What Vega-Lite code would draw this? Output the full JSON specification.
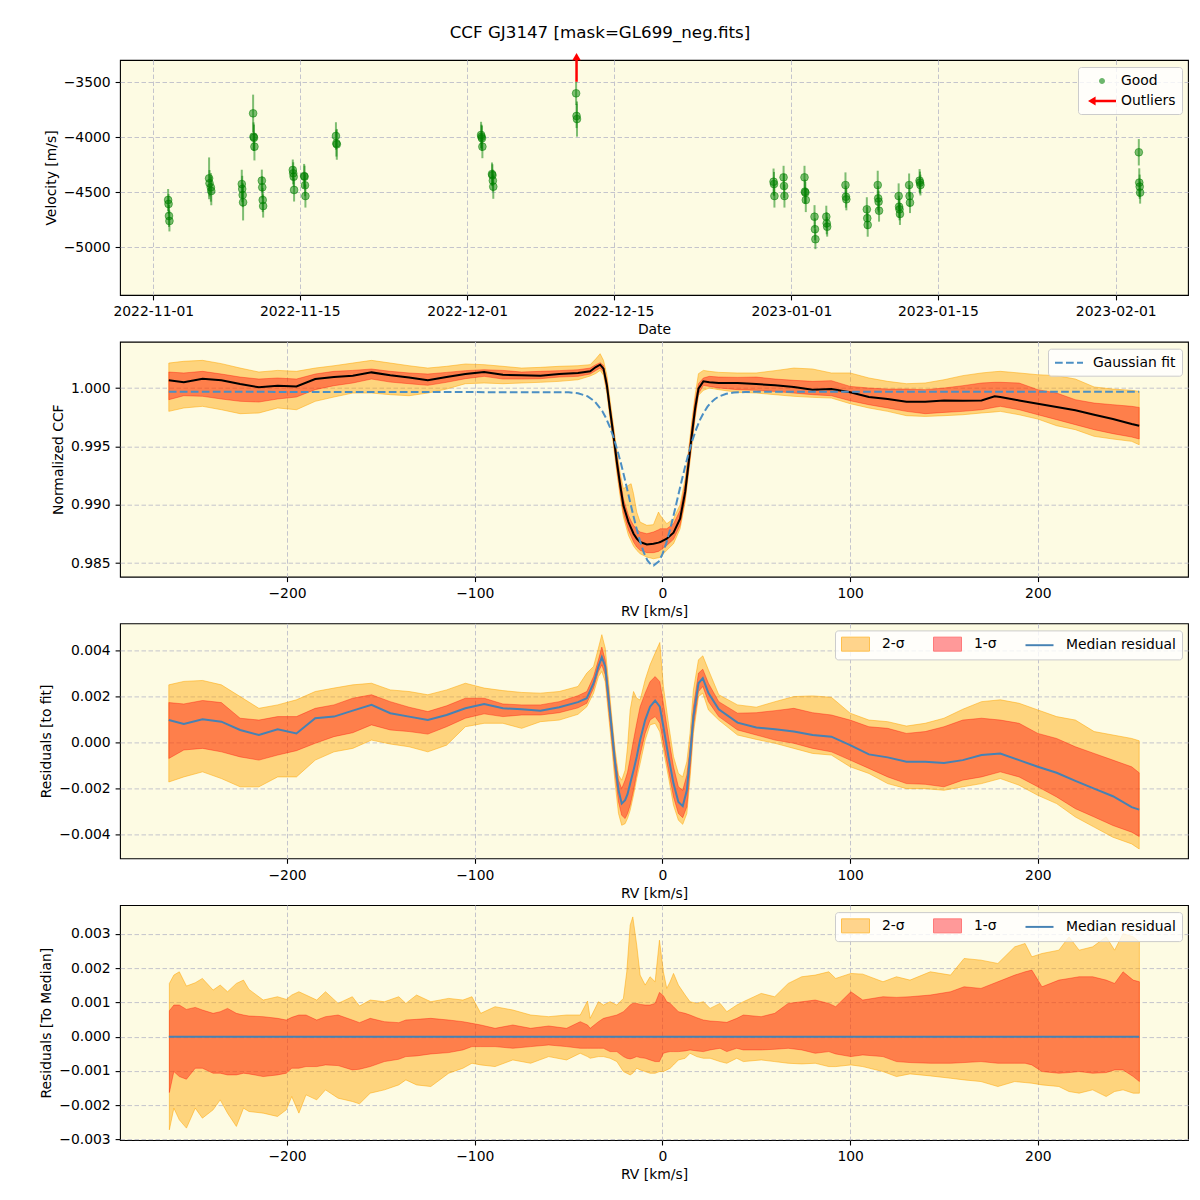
{
  "$schema": "https://vega.github.io/schema/vega-lite/v6.json",
  "background": "white",
  "padding": {"left": 39, "top": 24, "right": 5, "bottom": 5},
  "title": {"text": "CCF GJ3147 [mask=GL699_neg.fits]", "font": "DejaVu Sans", "fontSize": 16.7, "fontWeight": "normal", "color": "black", "anchor": "middle", "frame": "group", "dx": -54, "offset": 11},
  "spacing": 46.7,
  "bounds": "flush",
  "resolve": {"scale": {"color": "independent", "fill": "independent", "stroke": "independent", "shape": "independent"}, "legend": {"color": "independent", "fill": "independent", "stroke": "independent", "shape": "independent"}},
  "config": {
    "font": "DejaVu Sans",
    "view": {"fill": "#fdfbe3", "stroke": "black", "strokeWidth": 1.1},
    "axis": {"domain": false, "ticks": true, "tickColor": "black", "tickSize": 4.9, "tickWidth": 1.1, "tickCount": 20, "labelColor": "black", "labelFont": "DejaVu Sans", "labelFontSize": 13.9, "labelPadding": 4.9, "labelFlush": false, "labelOverlap": false, "labelBound": false, "titleColor": "black", "titleFont": "DejaVu Sans", "titleFontSize": 13.9, "titleFontWeight": "normal", "grid": true, "gridColor": "#c4c4cc", "gridDash": [4.5, 2.5], "gridWidth": 1, "zindex": 1},
    "axisX": {"titlePadding": 4},
    "axisY": {"titlePadding": 5},
    "legend": {"labelFont": "DejaVu Sans", "labelFontSize": 13.9, "labelColor": "black", "fillColor": "rgba(255,255,255,0.8)", "strokeColor": "#cccccc", "cornerRadius": 3, "padding": 6, "offset": 6.5, "orient": "top-right", "symbolOpacity": 1}
  },
  "datasets": {
    "rv": [
      {"t":"2022-11-02T10:00:00Z","v":-4570,"err":100},{"t":"2022-11-02T11:00:00Z","v":-4606,"err":90},{"t":"2022-11-02T12:00:00Z","v":-4715,"err":100},{"t":"2022-11-02T13:00:00Z","v":-4761,"err":95},
      {"t":"2022-11-06T08:00:00Z","v":-4373,"err":190},{"t":"2022-11-06T09:00:00Z","v":-4418,"err":120},{"t":"2022-11-06T12:00:00Z","v":-4455,"err":130},{"t":"2022-11-06T13:00:00Z","v":-4488,"err":130},
      {"t":"2022-11-09T11:00:00Z","v":-4425,"err":130},{"t":"2022-11-09T12:00:00Z","v":-4470,"err":120},{"t":"2022-11-09T13:00:00Z","v":-4525,"err":110},{"t":"2022-11-09T14:00:00Z","v":-4591,"err":165},
      {"t":"2022-11-10T13:00:00Z","v":-3782,"err":170},{"t":"2022-11-10T14:00:00Z","v":-3994,"err":130},{"t":"2022-11-10T15:00:00Z","v":-4004,"err":120},{"t":"2022-11-10T16:00:00Z","v":-4085,"err":125},
      {"t":"2022-11-11T09:00:00Z","v":-4394,"err":100},{"t":"2022-11-11T10:00:00Z","v":-4455,"err":100},{"t":"2022-11-11T11:00:00Z","v":-4570,"err":110},{"t":"2022-11-11T12:00:00Z","v":-4625,"err":105},
      {"t":"2022-11-14T08:00:00Z","v":-4297,"err":95},{"t":"2022-11-14T09:00:00Z","v":-4327,"err":100},{"t":"2022-11-14T10:00:00Z","v":-4358,"err":90},{"t":"2022-11-14T11:00:00Z","v":-4479,"err":105},
      {"t":"2022-11-15T10:00:00Z","v":-4352,"err":110},{"t":"2022-11-15T11:00:00Z","v":-4358,"err":100},{"t":"2022-11-15T12:00:00Z","v":-4436,"err":100},{"t":"2022-11-15T13:00:00Z","v":-4534,"err":105},
      {"t":"2022-11-18T11:00:00Z","v":-3988,"err":125},{"t":"2022-11-18T12:00:00Z","v":-4055,"err":120},{"t":"2022-11-18T13:00:00Z","v":-4064,"err":140},
      {"t":"2022-12-02T08:00:00Z","v":-3979,"err":120},{"t":"2022-12-02T09:00:00Z","v":-3995,"err":110},{"t":"2022-12-02T10:00:00Z","v":-4009,"err":115},{"t":"2022-12-02T11:00:00Z","v":-4085,"err":105},
      {"t":"2022-12-03T09:00:00Z","v":-4334,"err":105},{"t":"2022-12-03T10:00:00Z","v":-4345,"err":100},{"t":"2022-12-03T11:00:00Z","v":-4394,"err":100},{"t":"2022-12-03T12:00:00Z","v":-4449,"err":110},
      {"t":"2022-12-11T10:00:00Z","v":-3600,"err":105},{"t":"2022-12-11T11:00:00Z","v":-3806,"err":110},{"t":"2022-12-11T12:00:00Z","v":-3834,"err":160},
      {"t":"2022-12-30T07:00:00Z","v":-4404,"err":120},{"t":"2022-12-30T08:00:00Z","v":-4425,"err":110},{"t":"2022-12-30T09:00:00Z","v":-4534,"err":105},
      {"t":"2022-12-31T06:00:00Z","v":-4364,"err":105},{"t":"2022-12-31T07:00:00Z","v":-4443,"err":110},{"t":"2022-12-31T08:00:00Z","v":-4534,"err":105},
      {"t":"2023-01-02T06:00:00Z","v":-4364,"err":105},{"t":"2023-01-02T07:00:00Z","v":-4494,"err":110},{"t":"2023-01-02T08:00:00Z","v":-4503,"err":100},{"t":"2023-01-02T09:00:00Z","v":-4570,"err":110},
      {"t":"2023-01-03T05:00:00Z","v":-4722,"err":105},{"t":"2023-01-03T06:00:00Z","v":-4836,"err":100},{"t":"2023-01-03T07:00:00Z","v":-4927,"err":90},
      {"t":"2023-01-04T08:00:00Z","v":-4722,"err":100},{"t":"2023-01-04T09:00:00Z","v":-4782,"err":100},{"t":"2023-01-04T10:00:00Z","v":-4813,"err":90},
      {"t":"2023-01-06T04:00:00Z","v":-4434,"err":115},{"t":"2023-01-06T05:00:00Z","v":-4540,"err":100},{"t":"2023-01-06T06:00:00Z","v":-4564,"err":100},
      {"t":"2023-01-08T05:00:00Z","v":-4655,"err":110},{"t":"2023-01-08T06:00:00Z","v":-4736,"err":100},{"t":"2023-01-08T07:00:00Z","v":-4797,"err":107},
      {"t":"2023-01-09T06:00:00Z","v":-4434,"err":130},{"t":"2023-01-09T07:00:00Z","v":-4555,"err":110},{"t":"2023-01-09T08:00:00Z","v":-4585,"err":100},{"t":"2023-01-09T09:00:00Z","v":-4667,"err":100},
      {"t":"2023-01-11T06:00:00Z","v":-4534,"err":115},{"t":"2023-01-11T07:00:00Z","v":-4631,"err":100},{"t":"2023-01-11T08:00:00Z","v":-4655,"err":100},{"t":"2023-01-11T09:00:00Z","v":-4697,"err":100},
      {"t":"2023-01-12T06:00:00Z","v":-4434,"err":105},{"t":"2023-01-12T07:00:00Z","v":-4534,"err":100},{"t":"2023-01-12T08:00:00Z","v":-4594,"err":95},
      {"t":"2023-01-13T06:00:00Z","v":-4394,"err":105},{"t":"2023-01-13T07:00:00Z","v":-4412,"err":100},{"t":"2023-01-13T08:00:00Z","v":-4434,"err":95},
      {"t":"2023-02-03T05:00:00Z","v":-4136,"err":120},{"t":"2023-02-03T06:00:00Z","v":-4412,"err":130},{"t":"2023-02-03T07:00:00Z","v":-4449,"err":110},{"t":"2023-02-03T08:00:00Z","v":-4503,"err":100}
    ],
    "out": [{"t":"2022-12-11T11:00:00Z","v0":-3495,"v1":-3267}],
    "p2": [
      {"rv":-263,"med":1.00066,"hi1":1.00137,"lo1":0.99900,"hi2":1.00214,"lo2":0.99800},
      {"rv":-255,"med":1.00049,"hi1":1.00129,"lo1":0.99934,"hi2":1.00229,"lo2":0.99829},
      {"rv":-245,"med":1.00080,"hi1":1.00143,"lo1":0.99929,"hi2":1.00237,"lo2":0.99843},
      {"rv":-235,"med":1.00066,"hi1":1.00120,"lo1":0.99906,"hi2":1.00209,"lo2":0.99814},
      {"rv":-225,"med":1.00034,"hi1":1.00094,"lo1":0.99886,"hi2":1.00171,"lo2":0.99780},
      {"rv":-215,"med":1.00006,"hi1":1.00077,"lo1":0.99880,"hi2":1.00137,"lo2":0.99786},
      {"rv":-205,"med":1.00020,"hi1":1.00086,"lo1":0.99906,"hi2":1.00151,"lo2":0.99829},
      {"rv":-195,"med":1.00014,"hi1":1.00077,"lo1":0.99923,"hi2":1.00143,"lo2":0.99814},
      {"rv":-185,"med":1.00077,"hi1":1.00120,"lo1":0.99986,"hi2":1.00171,"lo2":0.99886},
      {"rv":-175,"med":1.00094,"hi1":1.00143,"lo1":1.00020,"hi2":1.00191,"lo2":0.99923},
      {"rv":-165,"med":1.00106,"hi1":1.00151,"lo1":1.00043,"hi2":1.00214,"lo2":0.99957},
      {"rv":-155,"med":1.00134,"hi1":1.00163,"lo1":1.00077,"hi2":1.00237,"lo2":0.99957},
      {"rv":-145,"med":1.00109,"hi1":1.00143,"lo1":1.00051,"hi2":1.00214,"lo2":0.99943},
      {"rv":-135,"med":1.00091,"hi1":1.00129,"lo1":1.00037,"hi2":1.00191,"lo2":0.99934},
      {"rv":-125,"med":1.00066,"hi1":1.00120,"lo1":1.00023,"hi2":1.00171,"lo2":0.99957},
      {"rv":-115,"med":1.00094,"hi1":1.00134,"lo1":1.00049,"hi2":1.00186,"lo2":0.99991},
      {"rv":-105,"med":1.00120,"hi1":1.00149,"lo1":1.00080,"hi2":1.00206,"lo2":1.00037},
      {"rv":-95,"med":1.00137,"hi1":1.00157,"lo1":1.00100,"hi2":1.00200,"lo2":1.00043},
      {"rv":-85,"med":1.00114,"hi1":1.00151,"lo1":1.00077,"hi2":1.00186,"lo2":1.00037},
      {"rv":-75,"med":1.00109,"hi1":1.00137,"lo1":1.00077,"hi2":1.00171,"lo2":1.00043},
      {"rv":-65,"med":1.00106,"hi1":1.00143,"lo1":1.00080,"hi2":1.00177,"lo2":1.00049},
      {"rv":-55,"med":1.00120,"hi1":1.00149,"lo1":1.00094,"hi2":1.00186,"lo2":1.00057},
      {"rv":-45,"med":1.00129,"hi1":1.00157,"lo1":1.00100,"hi2":1.00191,"lo2":1.00071},
      {"rv":-38.5,"med":1.00143,"hi1":1.00171,"lo1":1.00120,"hi2":1.00200,"lo2":1.00103},
      {"rv":-35.5,"med":1.00180,"hi1":1.00200,"lo1":1.00150,"hi2":1.00250,"lo2":1.00125},
      {"rv":-33.2,"med":1.00200,"hi1":1.00217,"lo1":1.00171,"hi2":1.00294,"lo2":1.00151},
      {"rv":-31.4,"med":1.00166,"hi1":1.00194,"lo1":1.00137,"hi2":1.00237,"lo2":1.00109},
      {"rv":-29.6,"med":1.00023,"hi1":1.00066,"lo1":0.99980,"hi2":1.00109,"lo2":0.99951},
      {"rv":-27.9,"med":0.99809,"hi1":0.99851,"lo1":0.99766,"hi2":0.99894,"lo2":0.99731},
      {"rv":-26.1,"med":0.99594,"hi1":0.99646,"lo1":0.99543,"hi2":0.99680,"lo2":0.99509},
      {"rv":-24.3,"med":0.99366,"hi1":0.99423,"lo1":0.99309,"hi2":0.99466,"lo2":0.99274},
      {"rv":-22.5,"med":0.99166,"hi1":0.99223,"lo1":0.99103,"hi2":0.99266,"lo2":0.99066},
      {"rv":-20.8,"med":0.98994,"hi1":0.99051,"lo1":0.98931,"hi2":0.99137,"lo2":0.98894},
      {"rv":-18.1,"med":0.98851,"hi1":0.98909,"lo1":0.98780,"hi2":0.99166,"lo2":0.98737},
      {"rv":-16.7,"med":0.98800,"hi1":0.98860,"lo1":0.98730,"hi2":0.99180,"lo2":0.98690},
      {"rv":-15.4,"med":0.98751,"hi1":0.98823,"lo1":0.98680,"hi2":0.99094,"lo2":0.98646},
      {"rv":-13.7,"med":0.98709,"hi1":0.98789,"lo1":0.98637,"hi2":0.98937,"lo2":0.98609},
      {"rv":-11.9,"med":0.98680,"hi1":0.98766,"lo1":0.98609,"hi2":0.98851,"lo2":0.98580},
      {"rv":-8.3,"med":0.98660,"hi1":0.98751,"lo1":0.98589,"hi2":0.98823,"lo2":0.98551},
      {"rv":-4.8,"med":0.98666,"hi1":0.98766,"lo1":0.98589,"hi2":0.98829,"lo2":0.98537},
      {"rv":-2.1,"med":0.98675,"hi1":0.98785,"lo1":0.98600,"hi2":0.98937,"lo2":0.98545},
      {"rv":-1.2,"med":0.98680,"hi1":0.98794,"lo1":0.98609,"hi2":0.98909,"lo2":0.98551},
      {"rv":2.3,"med":0.98709,"hi1":0.98794,"lo1":0.98651,"hi2":0.98837,"lo2":0.98609},
      {"rv":5.9,"med":0.98760,"hi1":0.98837,"lo1":0.98703,"hi2":0.98880,"lo2":0.98666},
      {"rv":9.4,"med":0.98880,"hi1":0.98951,"lo1":0.98823,"hi2":0.99000,"lo2":0.98794},
      {"rv":12.1,"med":0.99109,"hi1":0.99180,"lo1":0.99051,"hi2":0.99223,"lo2":0.99023},
      {"rv":13.8,"med":0.99337,"hi1":0.99409,"lo1":0.99274,"hi2":0.99451,"lo2":0.99251},
      {"rv":15.6,"med":0.99594,"hi1":0.99666,"lo1":0.99523,"hi2":0.99709,"lo2":0.99494},
      {"rv":17.4,"med":0.99823,"hi1":0.99894,"lo1":0.99760,"hi2":0.99937,"lo2":0.99737},
      {"rv":19.2,"med":0.99994,"hi1":1.00037,"lo1":0.99951,"hi2":1.00123,"lo2":0.99937},
      {"rv":21.8,"med":1.00057,"hi1":1.00086,"lo1":1.00023,"hi2":1.00151,"lo2":0.99980},
      {"rv":25,"med":1.00049,"hi1":1.00100,"lo1":1.00014,"hi2":1.00143,"lo2":1.00000},
      {"rv":30,"med":1.00043,"hi1":1.00094,"lo1":1.00000,"hi2":1.00134,"lo2":0.99986},
      {"rv":40,"med":1.00043,"hi1":1.00091,"lo1":0.99986,"hi2":1.00129,"lo2":0.99963},
      {"rv":50,"med":1.00034,"hi1":1.00094,"lo1":0.99980,"hi2":1.00129,"lo2":0.99957},
      {"rv":60,"med":1.00023,"hi1":1.00077,"lo1":0.99971,"hi2":1.00149,"lo2":0.99943},
      {"rv":70,"med":1.00009,"hi1":1.00066,"lo1":0.99957,"hi2":1.00171,"lo2":0.99929},
      {"rv":80,"med":0.99986,"hi1":1.00057,"lo1":0.99943,"hi2":1.00163,"lo2":0.99920},
      {"rv":90,"med":0.99991,"hi1":1.00063,"lo1":0.99934,"hi2":1.00129,"lo2":0.99914},
      {"rv":100,"med":0.99963,"hi1":1.00014,"lo1":0.99891,"hi2":1.00129,"lo2":0.99866},
      {"rv":110,"med":0.99923,"hi1":1.00000,"lo1":0.99857,"hi2":1.00086,"lo2":0.99829},
      {"rv":120,"med":0.99906,"hi1":0.99991,"lo1":0.99829,"hi2":1.00057,"lo2":0.99800},
      {"rv":130,"med":0.99883,"hi1":0.99991,"lo1":0.99800,"hi2":1.00037,"lo2":0.99763},
      {"rv":140,"med":0.99883,"hi1":0.99986,"lo1":0.99780,"hi2":1.00043,"lo2":0.99757},
      {"rv":150,"med":0.99894,"hi1":1.00000,"lo1":0.99791,"hi2":1.00071,"lo2":0.99763},
      {"rv":160,"med":0.99891,"hi1":1.00020,"lo1":0.99800,"hi2":1.00106,"lo2":0.99771},
      {"rv":170,"med":0.99894,"hi1":1.00043,"lo1":0.99814,"hi2":1.00129,"lo2":0.99786},
      {"rv":177,"med":0.99929,"hi1":1.00049,"lo1":0.99835,"hi2":1.00140,"lo2":0.99795},
      {"rv":180,"med":0.99923,"hi1":1.00049,"lo1":0.99843,"hi2":1.00143,"lo2":0.99800},
      {"rv":190,"med":0.99894,"hi1":1.00043,"lo1":0.99814,"hi2":1.00129,"lo2":0.99771},
      {"rv":200,"med":0.99866,"hi1":0.99986,"lo1":0.99771,"hi2":1.00114,"lo2":0.99734},
      {"rv":210,"med":0.99837,"hi1":0.99957,"lo1":0.99729,"hi2":1.00106,"lo2":0.99677},
      {"rv":220,"med":0.99809,"hi1":0.99900,"lo1":0.99686,"hi2":1.00077,"lo2":0.99643},
      {"rv":230,"med":0.99771,"hi1":0.99871,"lo1":0.99643,"hi2":1.00009,"lo2":0.99586},
      {"rv":240,"med":0.99734,"hi1":0.99857,"lo1":0.99609,"hi2":0.99991,"lo2":0.99563},
      {"rv":250,"med":0.99691,"hi1":0.99843,"lo1":0.99580,"hi2":0.99980,"lo2":0.99543},
      {"rv":254,"med":0.99677,"hi1":0.99834,"lo1":0.99563,"hi2":0.99971,"lo2":0.99514}
    ],
    "g": [
      {"rv":-263,"g":0.99968},{"rv":-50,"g":0.99964},{"rv":-45,"g":0.99955},{"rv":-40,"g":0.99930},{"rv":-36,"g":0.99884},{"rv":-32,"g":0.99801},{"rv":-30,"g":0.99740},{"rv":-28,"g":0.99664},{"rv":-26,"g":0.99574},{"rv":-24,"g":0.99467},{"rv":-22,"g":0.99347},{"rv":-20,"g":0.99216},{"rv":-18,"g":0.99078},{"rv":-16,"g":0.98940},{"rv":-14,"g":0.98808},{"rv":-12,"g":0.98690},{"rv":-10,"g":0.98593},{"rv":-8,"g":0.98523},{"rv":-6,"g":0.98484},{"rv":-4.8,"g":0.98478},{"rv":-2,"g":0.98512},{"rv":0,"g":0.98576},{"rv":2,"g":0.98669},{"rv":4,"g":0.98783},{"rv":6,"g":0.98913},{"rv":8,"g":0.99051},{"rv":10,"g":0.99189},{"rv":12,"g":0.99322},{"rv":14,"g":0.99444},{"rv":16,"g":0.99554},{"rv":18,"g":0.99648},{"rv":20,"g":0.99727},{"rv":22,"g":0.99789},{"rv":24,"g":0.99840},{"rv":26,"g":0.99878},{"rv":28,"g":0.99906},{"rv":30,"g":0.99927},{"rv":34,"g":0.99951},{"rv":38,"g":0.99961},{"rv":44,"g":0.99966},{"rv":50,"g":0.99968},{"rv":254,"g":0.99968}
    ],
    "p3": [
      {"rv":-263,"med":0.00097,"hi1":0.00173,"lo1":-0.00070,"hi2":0.00250,"lo2":-0.00172},
      {"rv":-255,"med":0.00080,"hi1":0.00167,"lo1":-0.00033,"hi2":0.00265,"lo2":-0.00150},
      {"rv":-245,"med":0.00100,"hi1":0.00182,"lo1":-0.00026,"hi2":0.00269,"lo2":-0.00128},
      {"rv":-235,"med":0.00090,"hi1":0.00173,"lo1":-0.00041,"hi2":0.00250,"lo2":-0.00157},
      {"rv":-225,"med":0.00054,"hi1":0.00105,"lo1":-0.00063,"hi2":0.00199,"lo2":-0.00193},
      {"rv":-215,"med":0.00032,"hi1":0.00097,"lo1":-0.00077,"hi2":0.00148,"lo2":-0.00193},
      {"rv":-205,"med":0.00057,"hi1":0.00112,"lo1":-0.00055,"hi2":0.00163,"lo2":-0.00150},
      {"rv":-195,"med":0.00039,"hi1":0.00112,"lo1":-0.00036,"hi2":0.00185,"lo2":-0.00150},
      {"rv":-185,"med":0.00105,"hi1":0.00148,"lo1":-0.00004,"hi2":0.00221,"lo2":-0.00077},
      {"rv":-175,"med":0.00112,"hi1":0.00163,"lo1":0.00025,"hi2":0.00236,"lo2":-0.00041},
      {"rv":-165,"med":0.00138,"hi1":0.00192,"lo1":0.00042,"hi2":0.00250,"lo2":-0.00026},
      {"rv":-155,"med":0.00163,"hi1":0.00207,"lo1":0.00076,"hi2":0.00257,"lo2":0.00010},
      {"rv":-145,"med":0.00127,"hi1":0.00177,"lo1":0.00054,"hi2":0.00228,"lo2":-0.00007},
      {"rv":-135,"med":0.00112,"hi1":0.00153,"lo1":0.00047,"hi2":0.00221,"lo2":-0.00019},
      {"rv":-125,"med":0.00097,"hi1":0.00134,"lo1":0.00036,"hi2":0.00207,"lo2":-0.00041},
      {"rv":-115,"med":0.00119,"hi1":0.00159,"lo1":0.00068,"hi2":0.00228,"lo2":-0.00012},
      {"rv":-105,"med":0.00148,"hi1":0.00192,"lo1":0.00105,"hi2":0.00257,"lo2":0.00068},
      {"rv":-95,"med":0.00167,"hi1":0.00192,"lo1":0.00124,"hi2":0.00236,"lo2":0.00083},
      {"rv":-85,"med":0.00148,"hi1":0.00167,"lo1":0.00112,"hi2":0.00225,"lo2":0.00083},
      {"rv":-75,"med":0.00144,"hi1":0.00163,"lo1":0.00119,"hi2":0.00217,"lo2":0.00061},
      {"rv":-65,"med":0.00138,"hi1":0.00163,"lo1":0.00119,"hi2":0.00214,"lo2":0.00090},
      {"rv":-55,"med":0.00153,"hi1":0.00177,"lo1":0.00129,"hi2":0.00221,"lo2":0.00097},
      {"rv":-45,"med":0.00175,"hi1":0.00203,"lo1":0.00150,"hi2":0.00243,"lo2":0.00122},
      {"rv":-40.3,"med":0.00192,"hi1":0.00221,"lo1":0.00170,"hi2":0.00301,"lo2":0.00155},
      {"rv":-36.7,"med":0.00257,"hi1":0.00286,"lo1":0.00235,"hi2":0.00330,"lo2":0.00214},
      {"rv":-34.1,"med":0.00330,"hi1":0.00359,"lo1":0.00308,"hi2":0.00410,"lo2":0.00286},
      {"rv":-32.3,"med":0.00370,"hi1":0.00414,"lo1":0.00337,"hi2":0.00468,"lo2":0.00308},
      {"rv":-30.5,"med":0.00330,"hi1":0.00359,"lo1":0.00293,"hi2":0.00410,"lo2":0.00264},
      {"rv":-28.8,"med":0.00199,"hi1":0.00235,"lo1":0.00155,"hi2":0.00272,"lo2":0.00126},
      {"rv":-27.0,"med":0.00054,"hi1":0.00083,"lo1":0.00010,"hi2":0.00112,"lo2":-0.00019},
      {"rv":-25.2,"med":-0.00092,"hi1":-0.00062,"lo1":-0.00135,"hi2":-0.00033,"lo2":-0.00179},
      {"rv":-23.4,"med":-0.00208,"hi1":-0.00164,"lo1":-0.00259,"hi2":-0.00142,"lo2":-0.00309},
      {"rv":-21.7,"med":-0.00266,"hi1":-0.00200,"lo1":-0.00317,"hi2":-0.00164,"lo2":-0.00360},
      {"rv":-19.9,"med":-0.00251,"hi1":-0.00164,"lo1":-0.00331,"hi2":-0.00121,"lo2":-0.00353},
      {"rv":-18.6,"med":-0.00225,"hi1":-0.00130,"lo1":-0.00310,"hi2":-0.00020,"lo2":-0.00330},
      {"rv":-17.2,"med":-0.00179,"hi1":-0.00070,"lo1":-0.00273,"hi2":0.00141,"lo2":-0.00295},
      {"rv":-15.4,"med":-0.00121,"hi1":0.00010,"lo1":-0.00208,"hi2":0.00221,"lo2":-0.00229},
      {"rv":-13.7,"med":-0.00062,"hi1":0.00083,"lo1":-0.00135,"hi2":0.00192,"lo2":-0.00157},
      {"rv":-11.9,"med":0.00010,"hi1":0.00155,"lo1":-0.00055,"hi2":0.00184,"lo2":-0.00092},
      {"rv":-9.2,"med":0.00097,"hi1":0.00214,"lo1":0.00039,"hi2":0.00272,"lo2":0.00010},
      {"rv":-6.6,"med":0.00155,"hi1":0.00264,"lo1":0.00097,"hi2":0.00337,"lo2":0.00076},
      {"rv":-3.9,"med":0.00182,"hi1":0.00286,"lo1":0.00112,"hi2":0.00388,"lo2":0.00083},
      {"rv":-1.4,"med":0.00155,"hi1":0.00264,"lo1":0.00083,"hi2":0.00434,"lo2":0.00046},
      {"rv":0.5,"med":0.00068,"hi1":0.00170,"lo1":-0.00004,"hi2":0.00243,"lo2":-0.00033},
      {"rv":3.2,"med":-0.00062,"hi1":0.00025,"lo1":-0.00121,"hi2":0.00083,"lo2":-0.00150},
      {"rv":5.9,"med":-0.00179,"hi1":-0.00106,"lo1":-0.00237,"hi2":-0.00062,"lo2":-0.00273},
      {"rv":8.5,"med":-0.00259,"hi1":-0.00193,"lo1":-0.00309,"hi2":-0.00135,"lo2":-0.00338},
      {"rv":10.8,"med":-0.00277,"hi1":-0.00208,"lo1":-0.00327,"hi2":-0.00150,"lo2":-0.00356},
      {"rv":13.0,"med":-0.00208,"hi1":-0.00142,"lo1":-0.00280,"hi2":-0.00084,"lo2":-0.00309},
      {"rv":14.7,"med":-0.00062,"hi1":-0.00019,"lo1":-0.00121,"hi2":0.00039,"lo2":-0.00157},
      {"rv":16.5,"med":0.00112,"hi1":0.00155,"lo1":0.00068,"hi2":0.00228,"lo2":0.00039},
      {"rv":19.2,"med":0.00257,"hi1":0.00301,"lo1":0.00221,"hi2":0.00359,"lo2":0.00199},
      {"rv":21.5,"med":0.00279,"hi1":0.00318,"lo1":0.00243,"hi2":0.00376,"lo2":0.00214},
      {"rv":24.5,"med":0.00214,"hi1":0.00257,"lo1":0.00177,"hi2":0.00315,"lo2":0.00141},
      {"rv":30,"med":0.00144,"hi1":0.00177,"lo1":0.00112,"hi2":0.00207,"lo2":0.00097},
      {"rv":40,"med":0.00086,"hi1":0.00127,"lo1":0.00054,"hi2":0.00163,"lo2":0.00032},
      {"rv":50,"med":0.00065,"hi1":0.00129,"lo1":0.00032,"hi2":0.00153,"lo2":0.00013},
      {"rv":60,"med":0.00057,"hi1":0.00138,"lo1":0.00010,"hi2":0.00177,"lo2":-0.00004},
      {"rv":70,"med":0.00047,"hi1":0.00148,"lo1":-0.00004,"hi2":0.00199,"lo2":-0.00026},
      {"rv":80,"med":0.00032,"hi1":0.00129,"lo1":-0.00026,"hi2":0.00202,"lo2":-0.00048},
      {"rv":90,"med":0.00025,"hi1":0.00119,"lo1":-0.00041,"hi2":0.00196,"lo2":-0.00055},
      {"rv":100,"med":-0.00012,"hi1":0.00097,"lo1":-0.00077,"hi2":0.00127,"lo2":-0.00106},
      {"rv":110,"med":-0.00052,"hi1":0.00068,"lo1":-0.00113,"hi2":0.00097,"lo2":-0.00135},
      {"rv":120,"med":-0.00065,"hi1":0.00061,"lo1":-0.00150,"hi2":0.00090,"lo2":-0.00179},
      {"rv":130,"med":-0.00084,"hi1":0.00039,"lo1":-0.00179,"hi2":0.00071,"lo2":-0.00201},
      {"rv":140,"med":-0.00084,"hi1":0.00047,"lo1":-0.00182,"hi2":0.00083,"lo2":-0.00201},
      {"rv":150,"med":-0.00089,"hi1":0.00068,"lo1":-0.00193,"hi2":0.00105,"lo2":-0.00208},
      {"rv":160,"med":-0.00077,"hi1":0.00097,"lo1":-0.00164,"hi2":0.00144,"lo2":-0.00193},
      {"rv":170,"med":-0.00055,"hi1":0.00105,"lo1":-0.00150,"hi2":0.00177,"lo2":-0.00179},
      {"rv":180,"med":-0.00048,"hi1":0.00097,"lo1":-0.00128,"hi2":0.00185,"lo2":-0.00157},
      {"rv":190,"med":-0.00077,"hi1":0.00083,"lo1":-0.00150,"hi2":0.00170,"lo2":-0.00186},
      {"rv":200,"med":-0.00106,"hi1":0.00039,"lo1":-0.00193,"hi2":0.00141,"lo2":-0.00230},
      {"rv":210,"med":-0.00132,"hi1":0.00017,"lo1":-0.00237,"hi2":0.00112,"lo2":-0.00266},
      {"rv":220,"med":-0.00167,"hi1":-0.00019,"lo1":-0.00288,"hi2":0.00097,"lo2":-0.00324},
      {"rv":230,"med":-0.00201,"hi1":-0.00048,"lo1":-0.00324,"hi2":0.00047,"lo2":-0.00368},
      {"rv":240,"med":-0.00234,"hi1":-0.00077,"lo1":-0.00361,"hi2":0.00032,"lo2":-0.00412},
      {"rv":250,"med":-0.00281,"hi1":-0.00106,"lo1":-0.00390,"hi2":0.00017,"lo2":-0.00441},
      {"rv":254,"med":-0.00292,"hi1":-0.00132,"lo1":-0.00409,"hi2":0.00007,"lo2":-0.00463}
    ],
    "p4": [
      {"rv":-262.7,"hi1":0.000757,"lo1":-0.001631,"hi2":0.001553,"lo2":-0.002719},
      {"rv":-260.3,"hi1":0.000922,"lo1":-0.001019,"hi2":0.001796,"lo2":-0.002087},
      {"rv":-257.4,"hi1":0.000922,"lo1":-0.001165,"hi2":0.001893,"lo2":-0.002427},
      {"rv":-253.6,"hi1":0.000796,"lo1":-0.001243,"hi2":0.001476,"lo2":-0.002670},
      {"rv":-248.9,"hi1":0.000854,"lo1":-0.000922,"hi2":0.001573,"lo2":-0.002087},
      {"rv":-245.1,"hi1":0.000777,"lo1":-0.000922,"hi2":0.001699,"lo2":-0.002379},
      {"rv":-239.4,"hi1":0.000680,"lo1":-0.001068,"hi2":0.001359,"lo2":-0.002136},
      {"rv":-235.6,"hi1":0.000728,"lo1":-0.001068,"hi2":0.001505,"lo2":-0.001845},
      {"rv":-231.7,"hi1":0.000825,"lo1":-0.001117,"hi2":0.001311,"lo2":-0.002233},
      {"rv":-227.0,"hi1":0.000680,"lo1":-0.001117,"hi2":0.001553,"lo2":-0.002621},
      {"rv":-223.2,"hi1":0.000631,"lo1":-0.001068,"hi2":0.001650,"lo2":-0.002087},
      {"rv":-220.3,"hi1":0.000602,"lo1":-0.001087,"hi2":0.001379,"lo2":-0.002185},
      {"rv":-212.7,"hi1":0.000583,"lo1":-0.001165,"hi2":0.001068,"lo2":-0.002233},
      {"rv":-205.1,"hi1":0.000534,"lo1":-0.001117,"hi2":0.001165,"lo2":-0.002330},
      {"rv":-200.4,"hi1":0.000485,"lo1":-0.001068,"hi2":0.001087,"lo2":-0.002136},
      {"rv":-197.5,"hi1":0.000563,"lo1":-0.000922,"hi2":0.001214,"lo2":-0.001748},
      {"rv":-193.7,"hi1":0.000631,"lo1":-0.000922,"hi2":0.001311,"lo2":-0.002233},
      {"rv":-189.9,"hi1":0.000631,"lo1":-0.000874,"hi2":0.001214,"lo2":-0.001699},
      {"rv":-184.2,"hi1":0.000485,"lo1":-0.000874,"hi2":0.001068,"lo2":-0.001845},
      {"rv":-179.5,"hi1":0.000583,"lo1":-0.000825,"hi2":0.001311,"lo2":-0.001553},
      {"rv":-172.8,"hi1":0.000631,"lo1":-0.000845,"hi2":0.000971,"lo2":-0.001796},
      {"rv":-165.2,"hi1":0.000485,"lo1":-0.000971,"hi2":0.001165,"lo2":-0.001893},
      {"rv":-161.4,"hi1":0.000408,"lo1":-0.000951,"hi2":0.000893,"lo2":-0.001961},
      {"rv":-155.7,"hi1":0.000534,"lo1":-0.000874,"hi2":0.001068,"lo2":-0.001650},
      {"rv":-148.1,"hi1":0.000437,"lo1":-0.000728,"hi2":0.001019,"lo2":-0.001553},
      {"rv":-140.5,"hi1":0.000408,"lo1":-0.000660,"hi2":0.001165,"lo2":-0.001408},
      {"rv":-136.7,"hi1":0.000485,"lo1":-0.000583,"hi2":0.000971,"lo2":-0.001262},
      {"rv":-131.0,"hi1":0.000505,"lo1":-0.000563,"hi2":0.001214,"lo2":-0.001408},
      {"rv":-123.4,"hi1":0.000534,"lo1":-0.000505,"hi2":0.001019,"lo2":-0.001456},
      {"rv":-113.9,"hi1":0.000485,"lo1":-0.000466,"hi2":0.001117,"lo2":-0.001068},
      {"rv":-106.3,"hi1":0.000437,"lo1":-0.000388,"hi2":0.001068,"lo2":-0.000922},
      {"rv":-101.5,"hi1":0.000388,"lo1":-0.000291,"hi2":0.001165,"lo2":-0.000777},
      {"rv":-96.8,"hi1":0.000340,"lo1":-0.000291,"hi2":0.000680,"lo2":-0.000825},
      {"rv":-89.2,"hi1":0.000243,"lo1":-0.000291,"hi2":0.000874,"lo2":-0.000874},
      {"rv":-79.7,"hi1":0.000340,"lo1":-0.000340,"hi2":0.000777,"lo2":-0.000680},
      {"rv":-70.2,"hi1":0.000243,"lo1":-0.000291,"hi2":0.000631,"lo2":-0.000777},
      {"rv":-60.6,"hi1":0.000311,"lo1":-0.000243,"hi2":0.000583,"lo2":-0.000583},
      {"rv":-51.1,"hi1":0.000243,"lo1":-0.000291,"hi2":0.000631,"lo2":-0.000680},
      {"rv":-43.8,"hi1":0.000437,"lo1":-0.000340,"hi2":0.000631,"lo2":-0.000485},
      {"rv":-39.9,"hi1":0.000340,"lo1":-0.000340,"hi2":0.001039,"lo2":-0.000583},
      {"rv":-38.5,"hi1":0.000243,"lo1":-0.000340,"hi2":0.000534,"lo2":-0.000631},
      {"rv":-34.1,"hi1":0.000437,"lo1":-0.000340,"hi2":0.001019,"lo2":-0.000583},
      {"rv":-31.4,"hi1":0.000534,"lo1":-0.000340,"hi2":0.000922,"lo2":-0.000583},
      {"rv":-27.9,"hi1":0.000583,"lo1":-0.000437,"hi2":0.001019,"lo2":-0.000631},
      {"rv":-24.3,"hi1":0.000631,"lo1":-0.000437,"hi2":0.000922,"lo2":-0.000728},
      {"rv":-20.8,"hi1":0.000728,"lo1":-0.000583,"hi2":0.001117,"lo2":-0.001019},
      {"rv":-19.0,"hi1":0.000825,"lo1":-0.000631,"hi2":0.001893,"lo2":-0.001068},
      {"rv":-17.2,"hi1":0.000922,"lo1":-0.000650,"hi2":0.003253,"lo2":-0.001117},
      {"rv":-15.8,"hi1":0.000971,"lo1":-0.000631,"hi2":0.003495,"lo2":-0.001068},
      {"rv":-13.7,"hi1":0.000971,"lo1":-0.000583,"hi2":0.002670,"lo2":-0.000922},
      {"rv":-11.9,"hi1":0.000942,"lo1":-0.000612,"hi2":0.001796,"lo2":-0.000971},
      {"rv":-9.2,"hi1":0.000922,"lo1":-0.000631,"hi2":0.001505,"lo2":-0.001019},
      {"rv":-6.6,"hi1":0.000922,"lo1":-0.000680,"hi2":0.001748,"lo2":-0.001068},
      {"rv":-3.9,"hi1":0.000971,"lo1":-0.000728,"hi2":0.001602,"lo2":-0.001068},
      {"rv":-1.6,"hi1":0.001291,"lo1":-0.000728,"hi2":0.002816,"lo2":-0.001019},
      {"rv":0.5,"hi1":0.001194,"lo1":-0.000485,"hi2":0.001893,"lo2":-0.001019},
      {"rv":2.3,"hi1":0.001019,"lo1":-0.000456,"hi2":0.001408,"lo2":-0.000971},
      {"rv":4.1,"hi1":0.000971,"lo1":-0.000437,"hi2":0.001602,"lo2":-0.000922},
      {"rv":5.9,"hi1":0.000874,"lo1":-0.000437,"hi2":0.001845,"lo2":-0.000825},
      {"rv":8.5,"hi1":0.000728,"lo1":-0.000437,"hi2":0.001505,"lo2":-0.000680},
      {"rv":12.1,"hi1":0.000680,"lo1":-0.000417,"hi2":0.001214,"lo2":-0.000631},
      {"rv":14.7,"hi1":0.000631,"lo1":-0.000388,"hi2":0.001019,"lo2":-0.000485},
      {"rv":18.3,"hi1":0.000553,"lo1":-0.000417,"hi2":0.000971,"lo2":-0.000583},
      {"rv":21.8,"hi1":0.000485,"lo1":-0.000437,"hi2":0.001019,"lo2":-0.000631},
      {"rv":25.4,"hi1":0.000456,"lo1":-0.000388,"hi2":0.000825,"lo2":-0.000631},
      {"rv":30.7,"hi1":0.000437,"lo1":-0.000340,"hi2":0.000971,"lo2":-0.000728},
      {"rv":34.3,"hi1":0.000417,"lo1":-0.000437,"hi2":0.000728,"lo2":-0.000777},
      {"rv":39.6,"hi1":0.000534,"lo1":-0.000340,"hi2":0.000922,"lo2":-0.000631},
      {"rv":43.1,"hi1":0.000631,"lo1":-0.000388,"hi2":0.001019,"lo2":-0.000728},
      {"rv":52.6,"hi1":0.000583,"lo1":-0.000388,"hi2":0.001262,"lo2":-0.000680},
      {"rv":59.8,"hi1":0.000680,"lo1":-0.000369,"hi2":0.001165,"lo2":-0.000728},
      {"rv":67.0,"hi1":0.000971,"lo1":-0.000340,"hi2":0.001553,"lo2":-0.000777},
      {"rv":74.2,"hi1":0.001019,"lo1":-0.000388,"hi2":0.001748,"lo2":-0.000796},
      {"rv":81.4,"hi1":0.001068,"lo1":-0.000485,"hi2":0.001796,"lo2":-0.000777},
      {"rv":88.6,"hi1":0.000971,"lo1":-0.000437,"hi2":0.001893,"lo2":-0.000874},
      {"rv":92.3,"hi1":0.000874,"lo1":-0.000505,"hi2":0.001699,"lo2":-0.000874},
      {"rv":100.4,"hi1":0.001311,"lo1":-0.000583,"hi2":0.001845,"lo2":-0.000825},
      {"rv":106.7,"hi1":0.001068,"lo1":-0.000534,"hi2":0.001825,"lo2":-0.000874},
      {"rv":117.5,"hi1":0.001165,"lo1":-0.000583,"hi2":0.001602,"lo2":-0.001019},
      {"rv":124.7,"hi1":0.001146,"lo1":-0.000728,"hi2":0.001748,"lo2":-0.001165},
      {"rv":131.9,"hi1":0.001165,"lo1":-0.000757,"hi2":0.001650,"lo2":-0.001087},
      {"rv":142.7,"hi1":0.001214,"lo1":-0.000777,"hi2":0.001893,"lo2":-0.001146},
      {"rv":153.5,"hi1":0.001311,"lo1":-0.000777,"hi2":0.001796,"lo2":-0.001214},
      {"rv":160.7,"hi1":0.001456,"lo1":-0.000757,"hi2":0.002282,"lo2":-0.001262},
      {"rv":169.7,"hi1":0.001408,"lo1":-0.000728,"hi2":0.002233,"lo2":-0.001311},
      {"rv":178.7,"hi1":0.001602,"lo1":-0.000777,"hi2":0.002136,"lo2":-0.001456},
      {"rv":187.7,"hi1":0.001796,"lo1":-0.000777,"hi2":0.002621,"lo2":-0.001311},
      {"rv":193.2,"hi1":0.001893,"lo1":-0.000777,"hi2":0.002719,"lo2":-0.001340},
      {"rv":196.8,"hi1":0.001942,"lo1":-0.000825,"hi2":0.002330,"lo2":-0.001359},
      {"rv":202.2,"hi1":0.001456,"lo1":-0.001019,"hi2":0.002427,"lo2":-0.001408},
      {"rv":211.2,"hi1":0.001650,"lo1":-0.001068,"hi2":0.002524,"lo2":-0.001456},
      {"rv":216.6,"hi1":0.001699,"lo1":-0.001049,"hi2":0.002913,"lo2":-0.001602},
      {"rv":222.0,"hi1":0.001748,"lo1":-0.001019,"hi2":0.002524,"lo2":-0.001650},
      {"rv":229.2,"hi1":0.001748,"lo1":-0.001068,"hi2":0.002621,"lo2":-0.001553},
      {"rv":236.4,"hi1":0.001650,"lo1":-0.001049,"hi2":0.002913,"lo2":-0.001748},
      {"rv":240.9,"hi1":0.001553,"lo1":-0.000971,"hi2":0.002524,"lo2":-0.001602},
      {"rv":245.4,"hi1":0.001893,"lo1":-0.000971,"hi2":0.003010,"lo2":-0.001553},
      {"rv":250.8,"hi1":0.001650,"lo1":-0.001165,"hi2":0.002913,"lo2":-0.001650},
      {"rv":254.1,"hi1":0.001602,"lo1":-0.001311,"hi2":0.002767,"lo2":-0.001650}
    ],
    "p4m": [{"rv":-263,"med":0},{"rv":254,"med":0}]
  },
  "vconcat": [
    {
      "width": 1068, "height": 235,
      "encoding": {
        "x": {"field": "t", "type": "temporal", "title": "Date",
          "scale": {"type": "utc", "domain": [{"year":2022,"month":10,"date":28,"hours":19,"minutes":36,"utc":true},{"year":2023,"month":2,"date":7,"hours":21,"minutes":50,"utc":true}]},
          "axis": {"format": "%Y-%m-%d", "labelOverlap": false, "values": [
            {"year":2022,"month":11,"date":1,"utc":true},{"year":2022,"month":11,"date":15,"utc":true},{"year":2022,"month":12,"date":1,"utc":true},{"year":2022,"month":12,"date":15,"utc":true},{"year":2023,"month":1,"date":1,"utc":true},{"year":2023,"month":1,"date":15,"utc":true},{"year":2023,"month":2,"date":1,"utc":true}]}}
      },
      "layer": [
        {"data": {"name": "rv"}, "mark": {"type": "errorbar", "color": "green", "opacity": 0.5, "thickness": 2},
          "encoding": {"y": {"field": "v", "type": "quantitative", "title": "Velocity [m/s]", "scale": {"domain": [-5434, -3297], "nice": false, "zero": false}, "axis": {"values": [-5000, -4500, -4000, -3500], "format": "d", "labelOverlap": false, "tickCount": 20}}, "yError": {"field": "err"}}},
        {"data": {"name": "rv"}, "mark": {"type": "point", "filled": true, "size": 60, "opacity": 1, "fill": "green", "fillOpacity": 0.5, "stroke": "green", "strokeOpacity": 0.5, "strokeWidth": 1},
          "encoding": {"y": {"field": "v", "type": "quantitative", "title": "Velocity [m/s]"}}},
        {"data": {"name": "out"}, "mark": {"type": "rule", "strokeWidth": 2.5, "color": "red"},
          "encoding": {"y": {"field": "v0", "type": "quantitative", "title": "Velocity [m/s]"}, "y2": {"field": "v1"}}},
        {"data": {"name": "out"}, "mark": {"type": "point", "shape": "triangle-up", "filled": true, "size": 70, "opacity": 1, "color": "red"},
          "encoding": {"y": {"field": "v1", "type": "quantitative", "title": "Velocity [m/s]"}}},
        {"data": {"name": "out"}, "transform": [{"filter": "false"}], "mark": {"type": "point", "filled": true, "opacity": 1, "strokeWidth": 0},
          "encoding": {"y": {"field": "v1", "type": "quantitative", "title": "Velocity [m/s]"},
            "color": {"datum": "Good", "scale": {"domain": ["Good", "Outliers"], "range": ["#6cb66c", "red"]},
              "legend": {"title": null, "symbolSize": 256, "rowPadding": 5, "symbolStrokeWidth": 0, "symbolOffset": 10, "labelOffset": 11}},
            "shape": {"datum": "Good", "scale": {"domain": ["Good", "Outliers"], "range": ["M0,-0.375A0.375,0.375,0,1,1,0,0.375A0.375,0.375,0,1,1,0,-0.375Z", "M-1.75,0L-0.8,-0.55L-0.8,-0.16L1.75,-0.16L1.75,0.16L-0.8,0.16L-0.8,0.55Z"]},
              "legend": {"title": null, "symbolSize": 256, "rowPadding": 5, "symbolStrokeWidth": 0, "symbolOffset": 10, "labelOffset": 11}}}}
      ]
    },
    {
      "width": 1068, "height": 235,
      "encoding": {"x": {"field": "rv", "type": "quantitative", "title": "RV [km/s]", "scale": {"domain": [-289, 280], "nice": false, "zero": false}, "axis": {"values": [-200, -100, 0, 100, 200], "format": "d", "labelOverlap": false}}},
      "layer": [
        {"data": {"name": "p2"}, "mark": {"type": "area", "fill": "#ffa500", "fillOpacity": 0.45, "stroke": "#ffa500", "strokeOpacity": 0.5, "strokeWidth": 1},
          "encoding": {"y": {"field": "lo2", "type": "quantitative", "title": "Normalized CCF", "scale": {"domain": [0.98383, 1.00397], "nice": false, "zero": false}, "axis": {"values": [0.985, 0.99, 0.995, 1.0], "format": ".3f", "labelOverlap": false}}, "y2": {"field": "hi2"}}},
        {"data": {"name": "p2"}, "mark": {"type": "area", "fill": "#ff0000", "fillOpacity": 0.4, "stroke": "#ff0000", "strokeOpacity": 0.35, "strokeWidth": 1},
          "encoding": {"y": {"field": "lo1", "type": "quantitative", "title": "Normalized CCF"}, "y2": {"field": "hi1"}}},
        {"data": {"name": "p2"}, "mark": {"type": "line", "color": "black", "strokeWidth": 2},
          "encoding": {"y": {"field": "med", "type": "quantitative", "title": "Normalized CCF"}}},
        {"data": {"name": "g"}, "mark": {"type": "line", "strokeWidth": 2, "strokeDash": [7.7, 3.3]},
          "encoding": {"y": {"field": "g", "type": "quantitative", "title": "Normalized CCF"},
            "color": {"datum": "Gaussian fit", "scale": {"domain": ["Gaussian fit"], "range": ["#4b8fc4"]},
              "legend": {"title": null, "symbolType": "M-2,0H2", "symbolSize": 196, "symbolStrokeWidth": 2, "symbolDash": [7.7, 3.3], "symbolOffset": 7, "labelOffset": 16}}}}
      ]
    },
    {
      "width": 1068, "height": 235,
      "encoding": {"x": {"field": "rv", "type": "quantitative", "title": "RV [km/s]", "scale": {"domain": [-289, 280], "nice": false, "zero": false}, "axis": {"values": [-200, -100, 0, 100, 200], "format": "d", "labelOverlap": false}}},
      "layer": [
        {"data": {"name": "p3"}, "mark": {"type": "area", "fill": "#ffa500", "fillOpacity": 0.45, "stroke": "#ffa500", "strokeOpacity": 0.5, "strokeWidth": 1},
          "encoding": {"y": {"field": "lo2", "type": "quantitative", "title": "Residuals [to fit]", "scale": {"domain": [-0.00504, 0.00517], "nice": false, "zero": false}, "axis": {"values": [-0.004, -0.002, 0, 0.002, 0.004], "format": ".3f", "labelOverlap": false, "tickCount": 20}}, "y2": {"field": "hi2"}}},
        {"data": {"name": "p3"}, "mark": {"type": "area", "fill": "#ff0000", "fillOpacity": 0.4, "stroke": "#ff0000", "strokeOpacity": 0.35, "strokeWidth": 1},
          "encoding": {"y": {"field": "lo1", "type": "quantitative", "title": "Residuals [to fit]"}, "y2": {"field": "hi1"}}},
        {"data": {"name": "p3"}, "mark": {"type": "line", "stroke": "#4682b4", "strokeWidth": 2},
          "encoding": {"y": {"field": "med", "type": "quantitative", "title": "Residuals [to fit]"}}},
        {"data": {"name": "p3"}, "transform": [{"filter": "false"}], "mark": {"type": "point", "opacity": 1, "strokeWidth": 1},
          "encoding": {"y": {"field": "med", "type": "quantitative", "title": "Residuals [to fit]"},
            "fill": {"datum": "2-σ", "scale": {"domain": ["2-σ", "1-σ", "Median residual"], "range": ["#ffd48c", "#ff9999", "#4682b4"]},
              "legend": {"title": null, "direction": "horizontal", "symbolSize": 196, "columnPadding": 26, "symbolStrokeWidth": 1, "symbolOffset": 7, "labelOffset": 19}},
            "stroke": {"datum": "2-σ", "scale": {"domain": ["2-σ", "1-σ", "Median residual"], "range": ["#ffc04d", "#ff7a7a", "transparent"]},
              "legend": {"title": null, "direction": "horizontal", "symbolSize": 196, "columnPadding": 26, "symbolStrokeWidth": 1, "symbolOffset": 7, "labelOffset": 19}},
            "shape": {"datum": "2-σ", "scale": {"domain": ["2-σ", "1-σ", "Median residual"], "range": ["M-2,-1H2V1H-2Z", "M-2,-1H2V1H-2Z", "M-2,-0.14H2V0.14H-2Z"]},
              "legend": {"title": null, "direction": "horizontal", "symbolSize": 196, "columnPadding": 26, "symbolStrokeWidth": 1, "symbolOffset": 7, "labelOffset": 19}}}}
      ]
    },
    {
      "width": 1068, "height": 235,
      "encoding": {"x": {"field": "rv", "type": "quantitative", "title": "RV [km/s]", "scale": {"domain": [-289, 280], "nice": false, "zero": false}, "axis": {"values": [-200, -100, 0, 100, 200], "format": "d", "labelOverlap": false}}},
      "layer": [
        {"data": {"name": "p4"}, "mark": {"type": "area", "fill": "#ffa500", "fillOpacity": 0.45, "stroke": "#ffa500", "strokeOpacity": 0.5, "strokeWidth": 1},
          "encoding": {"y": {"field": "lo2", "type": "quantitative", "title": "Residuals [To Median]", "scale": {"domain": [-0.00302, 0.00384], "nice": false, "zero": false}, "axis": {"values": [-0.003, -0.002, -0.001, 0, 0.001, 0.002, 0.003], "format": ".3f", "labelOverlap": false, "tickCount": 20}}, "y2": {"field": "hi2"}}},
        {"data": {"name": "p4"}, "mark": {"type": "area", "fill": "#ff0000", "fillOpacity": 0.4, "stroke": "#ff0000", "strokeOpacity": 0.35, "strokeWidth": 1},
          "encoding": {"y": {"field": "lo1", "type": "quantitative", "title": "Residuals [To Median]"}, "y2": {"field": "hi1"}}},
        {"data": {"name": "p4m"}, "mark": {"type": "line", "stroke": "#4682b4", "strokeWidth": 2},
          "encoding": {"y": {"field": "med", "type": "quantitative", "title": "Residuals [To Median]"}}},
        {"data": {"name": "p4m"}, "transform": [{"filter": "false"}], "mark": {"type": "point", "opacity": 1, "strokeWidth": 1},
          "encoding": {"y": {"field": "med", "type": "quantitative", "title": "Residuals [To Median]"},
            "fill": {"datum": "2-σ", "scale": {"domain": ["2-σ", "1-σ", "Median residual"], "range": ["#ffd48c", "#ff9999", "#4682b4"]},
              "legend": {"title": null, "direction": "horizontal", "symbolSize": 196, "columnPadding": 26, "symbolStrokeWidth": 1, "symbolOffset": 7, "labelOffset": 19}},
            "stroke": {"datum": "2-σ", "scale": {"domain": ["2-σ", "1-σ", "Median residual"], "range": ["#ffc04d", "#ff7a7a", "transparent"]},
              "legend": {"title": null, "direction": "horizontal", "symbolSize": 196, "columnPadding": 26, "symbolStrokeWidth": 1, "symbolOffset": 7, "labelOffset": 19}},
            "shape": {"datum": "2-σ", "scale": {"domain": ["2-σ", "1-σ", "Median residual"], "range": ["M-2,-1H2V1H-2Z", "M-2,-1H2V1H-2Z", "M-2,-0.14H2V0.14H-2Z"]},
              "legend": {"title": null, "direction": "horizontal", "symbolSize": 196, "columnPadding": 26, "symbolStrokeWidth": 1, "symbolOffset": 7, "labelOffset": 19}}}}
      ]
    }
  ]
}
